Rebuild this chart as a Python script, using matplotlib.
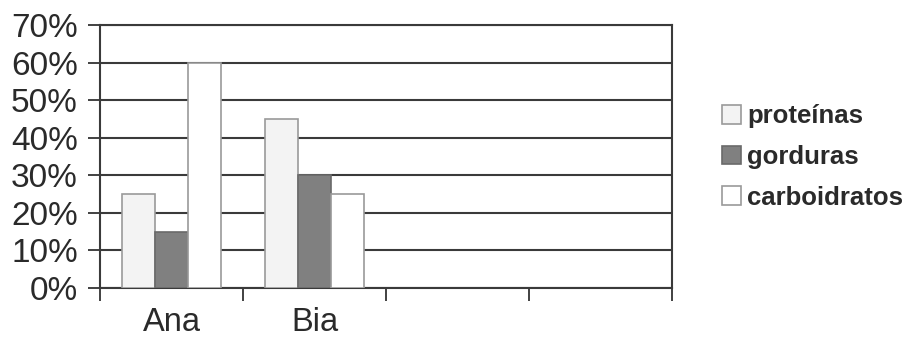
import numpy as np
import matplotlib.pyplot as plt

plt.rcParams['font.family'] = ['Liberation Sans', 'DejaVu Sans']

# data
categories = ['Ana', 'Bia', '', '']
series = ['proteínas', 'gorduras', 'carboidratos']
proteinas = [25, 45, 0, 0]
gorduras = [15, 30, 0, 0]
carboidratos = [60, 25, 0, 0]
yticks = [0, 10, 20, 30, 40, 50, 60, 70]

values = [proteinas, gorduras, carboidratos]
faces = ['#f3f3f3', '#808080', '#ffffff']
edges = ['#9a9a9a', '#6a6a6a', '#9a9a9a']

fig = plt.figure(figsize=(9.1, 3.37), dpi=100)
ax = fig.add_axes([0.1099, 0.1454, 0.6286, 0.7804])

x = np.arange(len(categories)) + 0.5
w = 0.23
n = 2  # only Ana and Bia have bars
for i, (vals, fc, ec) in enumerate(zip(values, faces, edges)):
    ax.bar(x[:n] + (i - 1) * w, vals[:n], width=w, color=fc, edgecolor=ec,
           linewidth=1.2, label=series[i], zorder=3)

ax.set_xlim(0, len(categories))
ax.set_ylim(0, 70)
ax.set_yticks(yticks)
ax.set_yticklabels([f'{v}%' for v in yticks], fontsize=24, color='#2a2a2a')

# ticks at category boundaries, labels at centers
ax.set_xticks(np.arange(len(categories) + 1))
ax.set_xticklabels([])
ax.set_xticks(x, minor=True)
ax.set_xticklabels(categories, minor=True, fontsize=23.5, color='#2a2a2a')
ax.tick_params(axis='x', which='minor', length=0, pad=14)
ax.tick_params(axis='x', which='major', length=9, width=1.3, color='#333333', direction='out')
ax.tick_params(axis='y', length=9, width=1.3, color='#333333', pad=7)

ax.grid(axis='y', color='#3a3a3a', linewidth=1.5, zorder=1)
for s in ax.spines.values():
    s.set_color('#3a3a3a')
    s.set_linewidth(1.5)

handles, labels = ax.get_legend_handles_labels()
leg = fig.legend(handles, labels, loc='center left', bbox_to_anchor=(0.793, 0.534),
                 frameon=False, prop={'weight': 'bold', 'size': 18.5},
                 handlelength=0.75, handleheight=0.75, handletextpad=0.25,
                 labelspacing=0.65, borderaxespad=0, borderpad=0)
for t in leg.get_texts():
    t.set_color('#2a2a2a')

fig.savefig('out.png', dpi=100, facecolor='white')
